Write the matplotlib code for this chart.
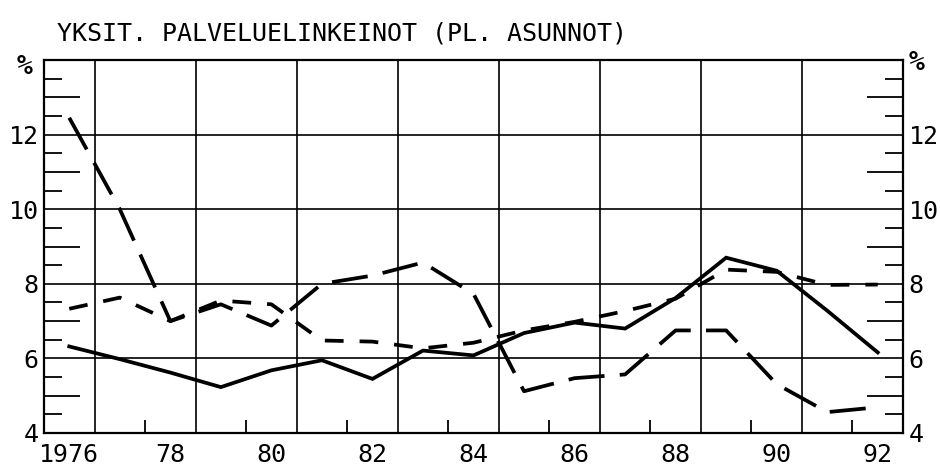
import numpy as np
import matplotlib
matplotlib.use('Agg')
import matplotlib.pyplot as plt

plt.rcParams['font.family'] = ['DejaVu Sans Mono']
plt.rcParams['lines.scale_dashes'] = False

# data (%)
years = list(range(1976, 1993))
solid_line = [6.32, 5.98, 5.62, 5.23, 5.68, 5.95, 5.45, 6.21, 6.08, 6.68,
              6.96, 6.80, 7.62, 8.70, 8.35, 7.28, 6.16]
long_dash = [12.45, 10.0, 7.0, 7.45, 6.88, 8.0, 8.22, 8.57, 7.73, 5.12,
             5.47, 5.57, 6.75, 6.75, 5.31, 4.56, 4.69]
medium_dash = [7.33, 7.63, 7.0, 7.55, 7.45, 6.48, 6.45, 6.27, 6.42, 6.75,
               6.98, 7.27, 7.60, 8.38, 8.32, 7.97, 7.98]

year_labels = ['1976', '78', '80', '82', '84', '86', '88', '90', '92']
title = 'YKSIT. PALVELUELINKEINOT (PL. ASUNNOT)'

fig = plt.figure(figsize=(9.4, 4.69), dpi=100)
ax = fig.add_axes([44/940, 1 - 433/469, (903 - 44)/940, (433 - 60)/469])

lw = 2.7
ax.plot(years, solid_line, color='black', lw=lw, solid_joinstyle='miter')
ax.plot(years, long_dash, color='black', lw=lw, linestyle=(0, (26, 11)),
        dash_capstyle='butt')
ax.plot(years, medium_dash, color='black', lw=lw, linestyle=(0, (13.5, 11.5)),
        dash_capstyle='butt')

ax.set_xlim(1975.5, 1992.5)
ax.set_ylim(4, 14)

# x: grid between the years, labels on the years, small ticks in between
ax.set_xticks(np.arange(1976.5, 1991, 2))
ax.set_xticklabels([])
ax.set_xticks(np.arange(1976, 1993, 2), labels=year_labels, minor=True)
ax.tick_params(axis='x', which='both', length=0)
ax.tick_params(axis='x', which='minor', pad=7, labelsize=18)

sec_x = ax.secondary_xaxis('bottom')
sec_x.set_xticks(np.arange(1977.5, 1992, 2))
sec_x.tick_params(direction='in', length=9.5, width=1.3, labelbottom=False)
sec_x.spines['bottom'].set_visible(False)

# y: grid on even values, long ticks on odd, short ticks on halves
ax.set_yticks([4, 6, 8, 10, 12, 14], labels=['4', '6', '8', '10', '12', ''])
ax.set_yticks(np.arange(4.5, 14, 1), minor=True)
ax.tick_params(axis='y', which='major', length=0, pad=4, labelsize=18,
               labelleft=True, labelright=True)
ax.tick_params(axis='y', which='minor', direction='in', length=13, width=1.3,
               left=True, right=True)

for side in ['left', 'right']:
    sec_y = ax.secondary_yaxis(side)
    sec_y.set_yticks([5, 7, 9, 11, 13])
    sec_y.tick_params(direction='in', length=26, width=1.3,
                      labelleft=False, labelright=False)
    sec_y.spines[side].set_visible(False)

ax.grid(True, which='major', color='black', lw=1.2)
for sp in ax.spines.values():
    sp.set_linewidth(1.6)

fig.text(57/940, 1 - 33/469, title, fontsize=18, va='center', ha='left')
fig.text(25/940, 1 - 67/469, '%', fontsize=19, fontweight='bold',
         va='center', ha='center')
fig.text(917/940, 1 - 63/469, '%', fontsize=19, fontweight='bold',
         va='center', ha='center')

fig.savefig('out.png', dpi=100)
